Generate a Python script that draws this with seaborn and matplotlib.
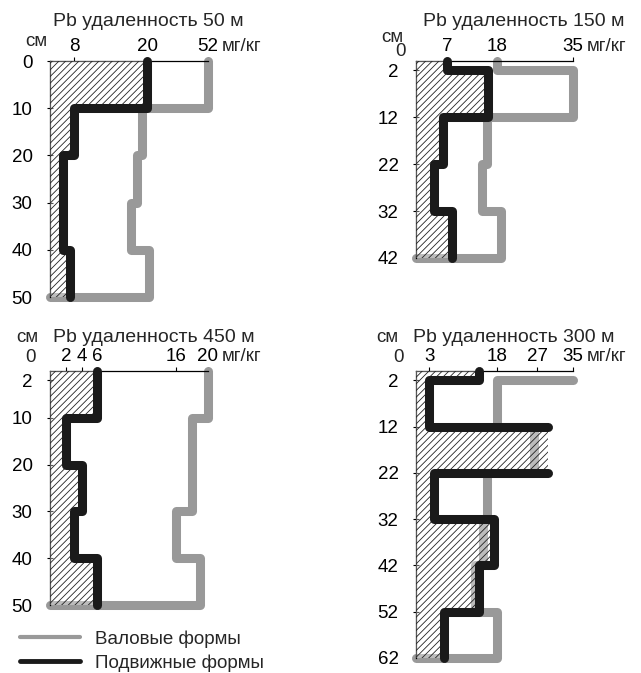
import numpy as np
import pandas as pd
import matplotlib
matplotlib.use('Agg')
import matplotlib.pyplot as plt
from matplotlib.lines import Line2D
import seaborn as sns

# depth boundaries (cm) and Pb values (mg/kg) per layer
# 50 m
depth_50 = [0, 10, 20, 30, 40, 50]
total_50 = [52, 19.2, 18.3, 17.4, 21]
mobile_50 = [20, 8, 4.2, 4.2, 6.7]
xticks_50 = [8, 20, 52]
yticks_50 = [0, 10, 20, 30, 40, 50]

# 150 m
depth_150 = [0, 2, 12, 22, 32, 42]
total_150 = [18, 35, 15.8, 14.7, 19]
mobile_150 = [7, 16, 6, 4, 8]
xticks_150 = [7, 18, 35]
yticks_150 = [2, 12, 22, 32, 42]

# 450 m
depth_450 = [0, 10, 20, 30, 40, 50]
total_450 = [20, 18, 18, 16, 19]
mobile_450 = [6, 2, 4, 3, 6]
xticks_450 = [2, 4, 6, 16, 20]
yticks_450 = [2, 10, 20, 30, 40, 50]

# 300 m (total forms start at 2 cm)
depth_300 = [0, 2, 12, 22, 32, 42, 52, 62]
total_depth_300 = [2, 2, 12, 22, 32, 42, 52, 62]
total_300 = [35, 18, 26.3, 15.8, 15, 13.2, 18]
mobile_300 = [14, 3, 29.4, 4, 17.3, 14.1, 6.3]
xticks_300 = [3, 18, 27, 35]
yticks_300 = [2, 12, 22, 32, 42, 52, 62]

GRAY = '#999999'
BLACK = '#1a1a1a'
W, H = 641, 673

sns.set_style('ticks')
plt.rcParams['font.family'] = ['Liberation Sans', 'DejaVu Sans']
plt.rcParams['hatch.linewidth'] = 0.6
plt.rcParams['hatch.color'] = '#222222'
FS = 13.5
FS_T = 14


def step_df(bounds, values, to_zero=False, skip=()):
    rows = []
    seg = 0
    for i, v in enumerate(values):
        rows.append((v, bounds[i], seg))
        if i in skip:
            seg += 1
        rows.append((v, bounds[i + 1], seg))
    if to_zero:
        rows.append((0, bounds[-1], seg))
    return pd.DataFrame(rows, columns=['x', 'y', 'seg'])


def px(x, y):
    return x / W, 1 - y / H


def panel(box, xmax, dmax, tbounds, total, bounds, mobile, xticks, yticks,
          skip=(), scale=None):
    x0, y0, x1, y1 = box
    ax = fig.add_axes([x0 / W, 1 - y1 / H, (x1 - x0) / W, (y1 - y0) / H])
    if scale is not None:
        ax.set_xscale('function', functions=scale)

    tot = step_df(tbounds, total, to_zero=True)
    mob = step_df(bounds, mobile, skip=skip)
    hatch = step_df(bounds, mobile)

    sns.lineplot(data=tot, x='x', y='y', units='seg', estimator=None, sort=False,
                 color=GRAY, lw=6.5, solid_capstyle='round',
                 solid_joinstyle='round', clip_on=False, zorder=2, ax=ax)
    ax.fill_betweenx(hatch['y'], 0, hatch['x'], facecolor=(1, 1, 1, 0.35),
                     edgecolor='#222222', hatch='/////', lw=0, zorder=3)
    sns.lineplot(data=mob, x='x', y='y', units='seg', estimator=None, sort=False,
                 color=BLACK, lw=6.5, solid_capstyle='round',
                 solid_joinstyle='round', clip_on=False, zorder=4, ax=ax)

    ax.set_xlim(0, xmax)
    ax.set_ylim(dmax, 0)
    ax.set_xlabel('')
    ax.set_ylabel('')
    ax.xaxis.tick_top()
    ax.set_xticks(xticks)
    ax.set_xticklabels([str(t) for t in xticks])
    ax.set_yticks(yticks)
    ax.minorticks_off()
    ax.tick_params(axis='x', direction='out', length=3, width=0.8, pad=1,
                   labelsize=FS, colors='black')
    ax.tick_params(axis='y', direction='inout', length=5, width=0.8, pad=10,
                   labelsize=FS, colors='black')
    for s in ['right', 'bottom']:
        ax.spines[s].set_visible(False)
    for s in ['top', 'left']:
        ax.spines[s].set_color('black')
        ax.spines[s].set_linewidth(0.9)
    ax.set_facecolor('none')
    ax.annotate('мг/кг', xy=(xmax, 0), xycoords='data', xytext=(10, 4),
                textcoords='offset points', ha='left', va='bottom',
                fontsize=FS, annotation_clip=False)
    return ax


fig = plt.figure(figsize=(W / 100, H / 100), dpi=100)

# nonlinear axis of the 50 m panel
anchors_v = [-20, 0, 8, 20, 52, 100]
anchors_p = [-60, 0, 24, 97, 158, 304]
scale_50 = (lambda v: np.interp(v, anchors_v, anchors_p),
            lambda p: np.interp(p, anchors_p, anchors_v))

panel((50, 61, 208, 297), 52, 50, depth_50, total_50, depth_50, mobile_50,
      xticks_50, yticks_50, scale=scale_50)
panel((416, 61, 573, 258), 35, 42, depth_150, total_150, depth_150, mobile_150,
      xticks_150, yticks_150)
panel((50, 371, 208, 605), 20, 50, depth_450, total_450, depth_450, mobile_450,
      xticks_450, yticks_450)
panel((416, 371, 573, 658), 35, 62, total_depth_300, total_300, depth_300,
      mobile_300, xticks_300, yticks_300, skip=(2,))

titles = [('Pb удаленность 50 м', 53, 22), ('Pb удаленность 150 м', 423, 22),
          ('Pb удаленность 450 м', 53, 337), ('Pb удаленность 300 м', 413, 337)]
for t, x, y in titles:
    fig.text(*px(x, y), t, ha='left', va='center', fontsize=FS_T)
for x, y in [(36, 42), (392, 37), (27, 337), (387, 337)]:
    fig.text(*px(x, y), 'см', ha='center', va='center', fontsize=FS)
for x, y in [(400, 52), (30, 357), (399, 357)]:
    fig.text(*px(x, y), '0', ha='center', va='center', fontsize=FS)

handles = [Line2D([], [], color=GRAY, lw=3, solid_capstyle='round'),
           Line2D([], [], color=BLACK, lw=3.5, solid_capstyle='round')]
fig.legend(handles, ['Валовые формы', 'Подвижные формы'], loc='upper left',
           bbox_to_anchor=px(20, 630), frameon=False, fontsize=FS,
           handlelength=3.2, handletextpad=0.8, labelspacing=0.35,
           borderpad=0, borderaxespad=0)

fig.savefig('out.png', dpi=100)
